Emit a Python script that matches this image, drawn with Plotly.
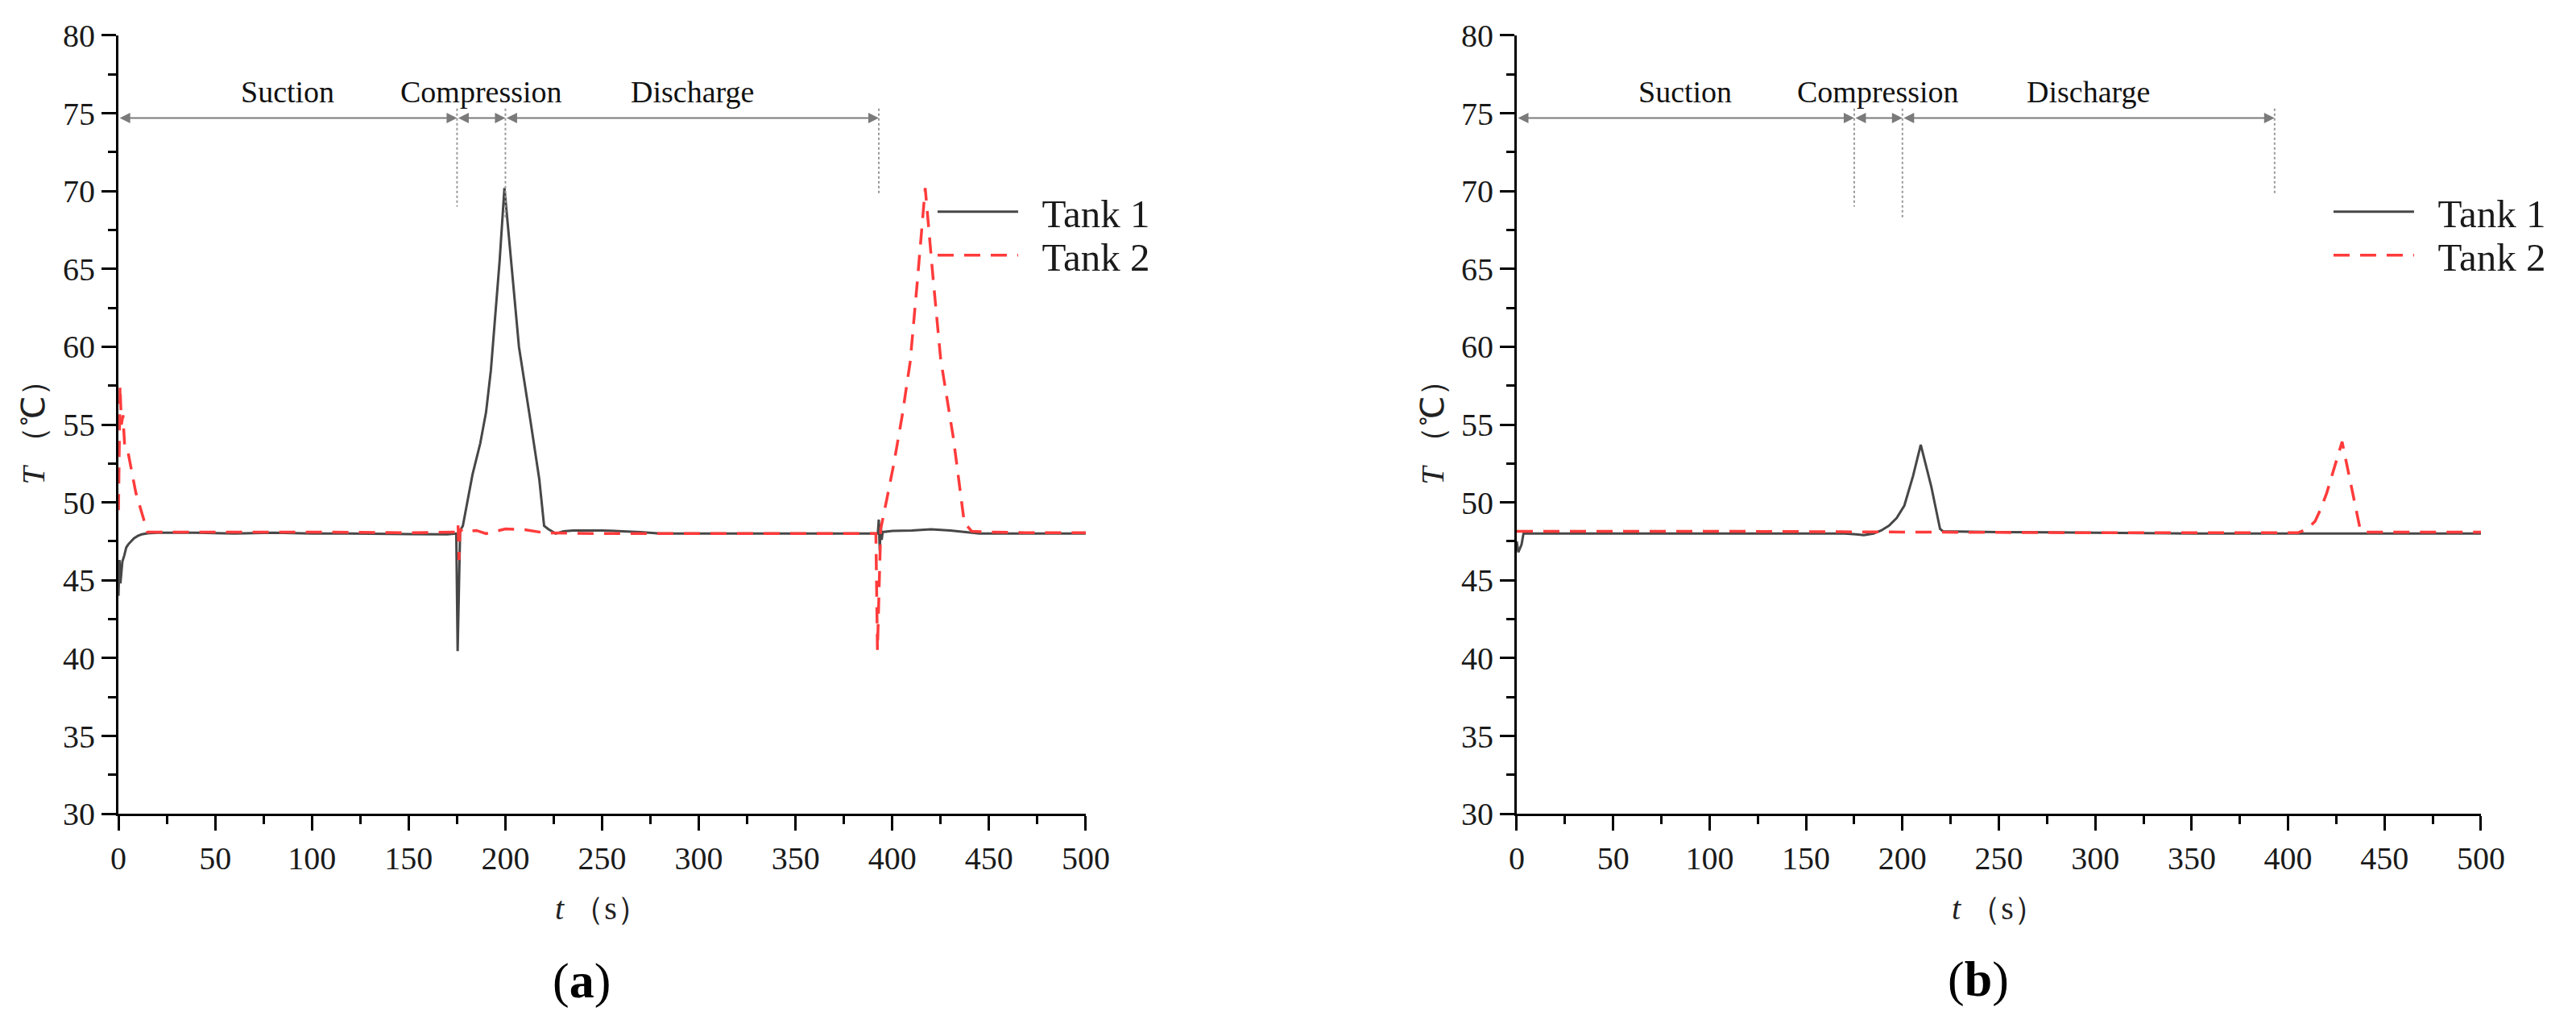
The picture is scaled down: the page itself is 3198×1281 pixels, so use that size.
import plotly.graph_objects as go

# ---- panel (a): temperatures ----
t_a1 = [0, 0.5, 1, 1.5, 2, 3, 4, 5, 6, 8, 10, 12, 15, 20, 40, 60, 80, 100, 120, 140, 160, 170,
        174.6, 175.3, 175.9, 176.6, 178, 183, 187, 190, 192.5, 195, 197, 199.5,
        203.5, 207, 213, 217.5, 220, 222, 226, 230, 235, 250, 270, 280, 300, 350, 385,
        392.5, 393, 393.5, 394, 394.5, 395, 400, 410, 420, 430, 437, 445, 460, 500]
T_a1 = [44.0, 46.3, 44.8, 45.5, 46.2, 46.6, 47.1, 47.3, 47.45, 47.7, 47.85, 47.95, 48.02, 48.05, 48.05, 48.0, 48.05, 48.0, 48.0, 47.98, 47.97, 47.95,
        48.0, 40.45, 44.0, 48.2, 48.5, 51.8, 53.8, 55.8, 58.5, 62.3, 65.5, 70.2,
        64.9, 60.0, 55.2, 51.5, 48.5, 48.3, 48.0, 48.15, 48.2, 48.2, 48.1, 48.0, 48.0, 48.0, 48.0,
        48.0, 48.9, 46.9, 48.6, 47.6, 48.1, 48.17, 48.2, 48.28, 48.2, 48.1, 48.0, 48.0, 48.0]

t_a2 = [0, 0.8, 1.5, 2.3, 3.2, 4.5, 9, 15, 20, 60, 100, 150, 174.5, 175.5, 176, 176.5, 178, 185, 190, 200, 210, 220, 250, 300, 350,
        391.5, 392.3, 393, 394, 397.3, 400.8, 405, 409.2, 413, 417, 421, 425, 431.6, 437.2, 441, 450, 470, 500]
T_a2 = [49.5, 57.5, 55.0, 55.6, 53.6, 53.5, 50.6, 48.1, 48.1, 48.1, 48.1, 48.05, 48.1, 48.6, 46.3, 48.3, 48.1, 48.2, 48.0, 48.3, 48.25, 48.05, 48.0, 48.0, 48.0,
        48.0, 40.5, 44.0, 48.3, 50.3, 52.5, 55.5, 59.0, 64.3, 70.2, 64.5, 59.2, 54.1, 48.7, 48.15, 48.1, 48.05, 48.05]

# ---- panel (b) ----
t_b1 = [0, 0.8, 1.5, 2.5, 3.5, 10, 100, 170, 176, 180, 185, 189, 193, 197, 201, 205.5, 209.5, 215, 219.5, 221, 250, 300, 350, 500]
T_b1 = [47.5, 46.8, 47.0, 47.3, 48.0, 48.0, 48.0, 48.0, 47.95, 47.9, 48.0, 48.2, 48.5, 49.0, 49.8, 51.7, 53.7, 51.0, 48.3, 48.15, 48.1, 48.05, 48.0, 48.0]

t_b2 = [0, 100, 200, 300, 400, 405, 410, 414, 417, 420, 428, 437.5, 440, 500]
T_b2 = [48.15, 48.15, 48.1, 48.05, 48.05, 48.05, 48.3, 48.8, 49.6, 50.6, 53.9, 48.2, 48.1, 48.1]

# phase boundaries (s) and labels
phase_t = [0, 175, 200, 393]
phase_names = ["Suction", "Compression", "Discharge"]
arrow_T = 74.7
label_T = 76.4
guide_top = 75.3
guide_bottom = [69.0, 68.3, 69.8]

x_ticks = list(range(0, 501, 50))
x_minor = list(range(25, 500, 50))
y_ticks = list(range(30, 81, 5))
y_minor = [v + 2.5 for v in range(30, 80, 5)]

serif = "Liberation Serif"
c1 = "#474747"
c2 = "#ff3b3b"

fig = go.Figure()

panels = [
    ("x", "y", ("legend", "legend2"), t_a1, T_a1, t_a2, T_a2),
    ("x2", "y2", ("legend3", "legend4"), t_b1, T_b1, t_b2, T_b2),
]
for xa, ya, lg, ta, Ta, tb, Tb in panels:
    fig.add_trace(go.Scatter(x=ta, y=Ta, mode="lines", name="\u2002Tank 1",
                             line=dict(color=c1, width=3), xaxis=xa, yaxis=ya, legend=lg[0]))
    fig.add_trace(go.Scatter(x=tb, y=Tb, mode="lines", name="\u2002Tank 2",
                             line=dict(color=c2, width=3.5, dash="20px,13px"), xaxis=xa, yaxis=ya, legend=lg[1]))

    # phase arrows, guides and labels
    for i in range(3):
        fig.add_annotation(x=phase_t[i + 1], y=arrow_T, ax=phase_t[i], ay=arrow_T,
                           xref=xa, yref=ya, axref=xa, ayref=ya, text="", showarrow=True,
                           arrowside="end+start", arrowhead=2, startarrowhead=2,
                           arrowsize=1.3, startarrowsize=1.3, arrowwidth=2, arrowcolor="#7a7a7a")
        fig.add_annotation(x=(phase_t[i] + phase_t[i + 1]) / 2, y=label_T, xref=xa, yref=ya,
                           text=phase_names[i], showarrow=False, yanchor="middle",
                           font=dict(family=serif, size=38, color="#111"))
        fig.add_shape(type="line", xref=xa, yref=ya, x0=phase_t[i + 1], x1=phase_t[i + 1],
                      y0=guide_top, y1=guide_bottom[i], line=dict(color="#999", width=2, dash="dot"))

    fig.add_annotation(xref=xa + " domain", yref=ya + " domain", x=-0.088, y=0.5,
                       text="<i>T</i> （℃）", textangle=-90, showarrow=False,
                       xanchor="center", yanchor="middle",
                       font=dict(family=serif, size=40, color="#222"))
    fig.add_annotation(xref=xa + " domain", yref=ya + " domain", x=0.5, y=-0.122,
                       text="<i>t</i> （s）", showarrow=False, xanchor="center", yanchor="middle",
                       font=dict(family=serif, size=40, color="#222"))

fig.add_annotation(xref="x domain", yref="y domain", x=0.479, y=-0.215, text="(<b>a</b>)",
                   showarrow=False, xanchor="center", yanchor="middle",
                   font=dict(family=serif, size=62, color="black"))
fig.add_annotation(xref="x2 domain", yref="y2 domain", x=0.479, y=-0.213, text="(<b>b</b>)",
                   showarrow=False, xanchor="center", yanchor="middle",
                   font=dict(family=serif, size=62, color="black"))

xaxis_style = dict(range=[0, 500], tickvals=x_ticks, showline=True, linecolor="black", linewidth=3,
                   ticks="outside", ticklen=18, tickwidth=3, tickcolor="black", showgrid=False, zeroline=False,
                   automargin=False, tickfont=dict(family=serif, size=40, color="#1a1a1a"),
                   minor=dict(tickvals=x_minor, ticks="outside", ticklen=10, tickwidth=3, tickcolor="black"))
yaxis_style = dict(range=[30, 80], tickvals=y_ticks, showline=True, linecolor="black", linewidth=3,
                   ticks="outside", ticklen=18, tickwidth=3, tickcolor="black", showgrid=False, zeroline=False,
                   automargin=False, tickfont=dict(family=serif, size=40, color="#1a1a1a"),
                   minor=dict(tickvals=y_minor, ticks="outside", ticklen=10, tickwidth=3, tickcolor="black"))

legend_style = dict(font=dict(family=serif, size=49, color="#1a1a1a"), bgcolor="rgba(0,0,0,0)",
                    itemwidth=100, xanchor="left", yanchor="middle")

# page body adds 8px; domains are shifted back by that much
fig.update_layout(
    width=3198, height=1281, autosize=False, showlegend=True,
    margin=dict(l=0, r=0, t=0, b=0, pad=0),
    paper_bgcolor="white", plot_bgcolor="white",
    xaxis=dict(domain=[0.0435, 0.419], anchor="y", **xaxis_style),
    yaxis=dict(domain=[0.2177, 0.9719], anchor="x", **yaxis_style),
    xaxis2=dict(domain=[0.5863, 0.9606], anchor="y2", **xaxis_style),
    yaxis2=dict(domain=[0.2177, 0.9719], anchor="x2", **yaxis_style),
    legend=dict(x=0.3599, y=0.8010, **legend_style),
    legend2=dict(x=0.3599, y=0.7588, **legend_style),
    legend3=dict(x=0.9018, y=0.8010, **legend_style),
    legend4=dict(x=0.9018, y=0.7588, **legend_style),
)

fig.write_html("out.html")
